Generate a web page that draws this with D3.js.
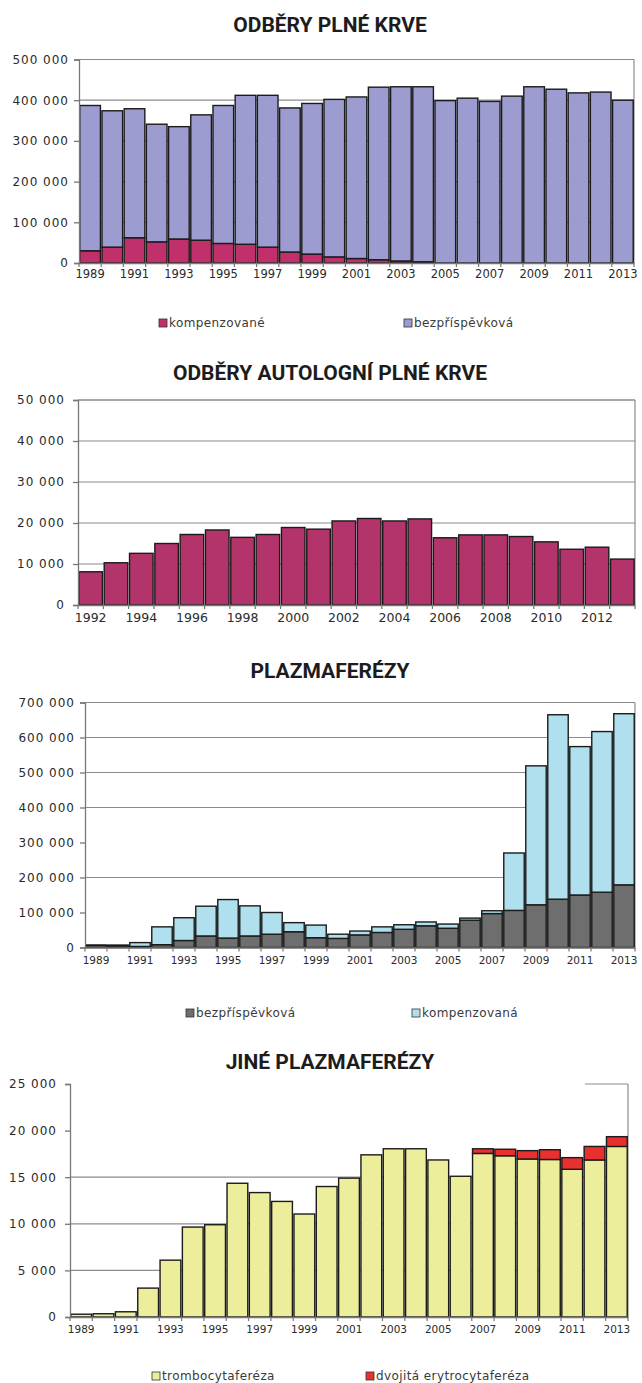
<!DOCTYPE html>
<html>
<head>
<meta charset="utf-8">
<script src="https://cdn.jsdelivr.net/npm/d3@7"></script>
<style>
body { margin: 0; background: #fff; }
.title { font-family: Roboto, "DejaVu Sans", sans-serif; font-weight: 700; font-size: 21px; fill: #1c1c1c; }
.ylab text { font-family: "DejaVu Sans", sans-serif; font-size: 12px; letter-spacing: 1px; fill: #2a2a2a; }
.xlab text { font-family: "DejaVu Sans", sans-serif; fill: #2a2a2a; }
.leg { font-family: "DejaVu Sans", sans-serif; font-size: 12px; letter-spacing: 0.4px; fill: #3a3a3a; }
</style>
</head>
<body>
<svg id="page" width="642" height="1383"></svg>
<script>
// years
var years89 = ["1989","1990","1991","1992","1993","1994","1995","1996","1997","1998","1999","2000","2001",
               "2002","2003","2004","2005","2006","2007","2008","2009","2010","2011","2012","2013"];
var years92 = ["1992","1993","1994","1995","1996","1997","1998","1999","2000","2001","2002","2003",
               "2004","2005","2006","2007","2008","2009","2010","2011","2012","2013"];
var labels89 = ["1989","1991","1993","1995","1997","1999","2001","2003","2005","2007","2009","2011","2013"];
var labels92 = ["1992","1994","1996","1998","2000","2002","2004","2006","2008","2010","2012"];

// odbery plne krve
var krevKomp  = [30000,39000,62000,52000,59000,56000,48000,46000,39000,27000,22000,15000,11000,
                 8000,5000,3000,0,0,0,0,0,0,0,0,0];
var krevBezpl = [357000,335000,317000,289000,276000,308000,339000,366000,373000,354000,370000,387000,397000,
                 424000,428000,430000,399000,405000,397000,410000,433000,427000,418000,420000,400000];
var krevTicks = [0,100000,200000,300000,400000,500000];

// autologni odbery
var autolog = [8100,10300,12600,15000,17200,18300,16500,17200,18900,18500,20500,21100,
               20500,21000,16400,17100,17100,16700,15400,13600,14100,11200];
var autoTicks = [0,10000,20000,30000,40000,50000];

// plazmaferezy
var plazBezpl = [6000,5000,3000,8000,20000,33000,27000,33000,38000,45000,28000,26000,36000,
                 43000,52000,62000,55000,78000,97000,106000,122000,138000,150000,158000,179000];
var plazKomp  = [1000,2000,11000,51000,65000,85000,110000,86000,62000,26000,36000,12000,11000,
                 16000,13000,11000,12000,6000,8000,164000,397000,527000,424000,459000,489000];
var plazTicks = [0,100000,200000,300000,400000,500000,600000,700000];
var plazGrid  = [200000,400000,500000,600000,700000];

// jine plazmaferezy
var trombo = [300,350,560,3100,6100,9650,9900,14350,13350,12400,11050,14000,14900,
              17400,18050,18050,16850,15100,17550,17300,16950,16900,15850,16850,18300];
var erytro = [0,0,0,0,0,0,0,0,0,0,0,0,0,
              0,0,0,0,0,500,700,900,1050,1250,1450,1050];
var jineTicks = [0,5000,10000,15000,20000,25000];
var jineGrid  = [5000,10000,15000];

var fmt = d3.formatLocale({decimal: ",", thousands: " ", grouping: [3], currency: ["", ""]}).format(",");
var svg = d3.select("#page");

function drawChart(c) {
    var rows = c.years.map(function(yr, i) {
        var r = {year: yr};
        c.keys.forEach(function(k, j) { r[k] = c.series[j][i]; });
        return r;
    });

    var x = d3.scaleBand().domain(c.years).range([c.left, c.right]).paddingInner(0.07).paddingOuter(0.035);
    var y = d3.scaleLinear().domain([0, c.max]).range([c.bottom, c.top]);
    var g = svg.append("g");

    g.append("text").attr("class", "title")
        .attr("x", 330).attr("y", c.titleY)
        .attr("text-anchor", "middle")
        .text(c.title);

    // gridlines
    g.selectAll(".grid").data(c.grid).enter().append("line")
        .attr("x1", c.left).attr("x2", c.right)
        .attr("y1", function(d) { return y(d); })
        .attr("y2", function(d) { return y(d); })
        .attr("stroke", "#8c8c8c").attr("stroke-width", 1.2);

    // frame on the top / right
    g.append("line")
        .attr("x1", c.frameFrom).attr("x2", c.right)
        .attr("y1", y(c.max)).attr("y2", y(c.max))
        .attr("stroke", "#8c8c8c").attr("stroke-width", 1.2);
    g.append("line")
        .attr("x1", c.right).attr("x2", c.right)
        .attr("y1", y(c.max)).attr("y2", y(0))
        .attr("stroke", "#8c8c8c").attr("stroke-width", 1.2);

    // bars
    var stack = d3.stack().keys(c.keys)(rows);
    g.selectAll(".layer").data(stack).enter().append("g")
        .attr("fill", function(d, i) { return c.colors[i]; })
        .selectAll("rect")
        .data(function(d) { return d.filter(function(p) { return p[1] - p[0] > 0; }); })
        .enter().append("rect")
        .attr("x", function(d) { return x(d.data.year); })
        .attr("width", x.bandwidth())
        .attr("y", function(d) { return y(d[1]); })
        .attr("height", function(d) { return y(d[0]) - y(d[1]); })
        .attr("stroke", "#1b1b1b")
        .attr("stroke-width", 1.4);

    // y axis
    var ya = g.append("g").attr("class", "ylab")
        .attr("transform", "translate(" + c.left + ",0)")
        .call(d3.axisLeft(y).tickValues(c.ticks).tickFormat(fmt).tickSize(5).tickPadding(c.yPad));
    ya.select(".domain").attr("stroke", "#777").attr("stroke-width", 1.3);
    ya.selectAll(".tick line").attr("stroke", "#777").attr("stroke-width", 1.3);

    // x axis: labels every other year, ticks on band edges
    var xa = g.append("g").attr("class", "xlab")
        .attr("transform", "translate(0," + c.bottom + ")")
        .call(d3.axisBottom(x).tickValues(c.labels).tickSize(0).tickPadding(c.xPad));
    xa.select(".domain").attr("stroke", "#777").attr("stroke-width", 1.3);
    xa.selectAll("text").style("font-size", c.xFont + "px");

    var edges = c.years.map(function(d) { return x(d) - x.step() * x.paddingInner() / 2; });
    edges.push(x(c.years[c.years.length - 1]) + x.bandwidth() + x.step() * x.paddingInner() / 2);
    g.selectAll(".edge").data(edges).enter().append("line")
        .attr("x1", function(d) { return d; }).attr("x2", function(d) { return d; })
        .attr("y1", c.bottom).attr("y2", c.bottom + 4)
        .attr("stroke", "#777").attr("stroke-width", 1.2);

    // legend
    var lg = g.selectAll(".legitem").data(c.legend).enter().append("g")
        .attr("transform", function(d) { return "translate(" + d.x + "," + c.legendY + ")"; });
    lg.append("rect")
        .attr("x", 0).attr("y", -8).attr("width", 8).attr("height", 8)
        .attr("fill", function(d) { return c.colors[d.i]; })
        .attr("stroke", "#333").attr("stroke-width", 0.8);
    lg.append("text").attr("class", "leg")
        .attr("x", 10).attr("y", 0)
        .text(function(d) { return d.label; });
}

drawChart({
    title: "ODBĚRY PLNÉ KRVE", titleY: 32,
    years: years89, labels: labels89,
    keys: ["kompenzované", "bezpříspěvková"], series: [krevKomp, krevBezpl],
    colors: ["#c2306c", "#9c9cd0"],
    left: 79, right: 634, top: 59.5, bottom: 263, frameFrom: 79,
    max: 500000, ticks: krevTicks, grid: krevTicks.slice(1),
    yPad: 5, xPad: 7, xFont: 11.5,
    legendY: 327,
    legend: [{label: "kompenzované", x: 159, i: 0}, {label: "bezpříspěvková", x: 404, i: 1}]
});

drawChart({
    title: "ODBĚRY AUTOLOGNÍ PLNÉ KRVE", titleY: 380,
    years: years92, labels: labels92,
    keys: ["autologní"], series: [autolog],
    colors: ["#b3336b"],
    left: 78, right: 635, top: 400, bottom: 605, frameFrom: 78,
    max: 50000, ticks: autoTicks, grid: autoTicks.slice(1),
    yPad: 8, xPad: 8, xFont: 12.5,
    legendY: 0, legend: []
});

drawChart({
    title: "PLAZMAFERÉZY", titleY: 678,
    years: years89, labels: labels89,
    keys: ["bezpříspěvková", "kompenzovaná"], series: [plazBezpl, plazKomp],
    colors: ["#6e6e6e", "#b0e0ee"],
    left: 85, right: 635, top: 702.5, bottom: 947.5, frameFrom: 85,
    max: 700000, ticks: plazTicks, grid: plazGrid,
    yPad: 5, xPad: 9, xFont: 10.5,
    legendY: 1017,
    legend: [{label: "bezpříspěvková", x: 186, i: 0}, {label: "kompenzovaná", x: 412, i: 1}]
});

drawChart({
    title: "JINÉ PLAZMAFERÉZY", titleY: 1069,
    years: years89, labels: labels89,
    keys: ["trombocytaferéza", "dvojitá erytrocytaferéza"], series: [trombo, erytro],
    colors: ["#ecee9c", "#e8302e"],
    left: 70, right: 628, top: 1084, bottom: 1317, frameFrom: 585,
    max: 25000, ticks: jineTicks, grid: jineGrid,
    yPad: 8, xPad: 9, xFont: 10.5,
    legendY: 1380,
    legend: [{label: "trombocytaferéza", x: 152, i: 0}, {label: "dvojitá erytrocytaferéza", x: 366, i: 1}]
});
</script>
</body>
</html>
